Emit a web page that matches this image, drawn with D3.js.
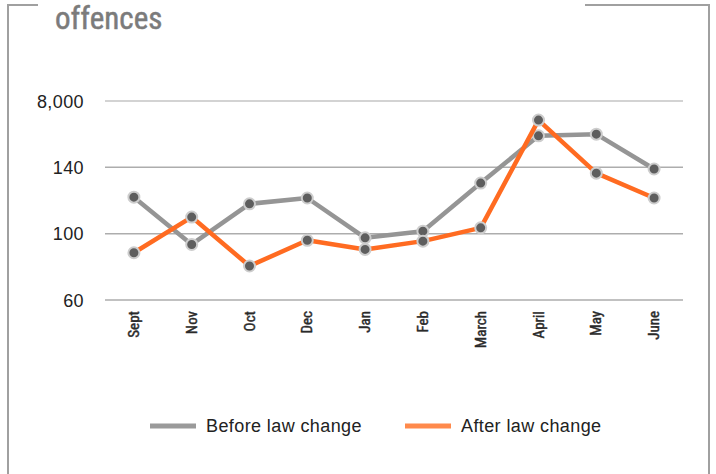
<!DOCTYPE html>
<html>
<head>
<meta charset="utf-8">
<script src="https://cdn.jsdelivr.net/npm/d3@7"></script>
<style>
  body { margin: 0; background: #fff; }
  svg { display: block; }
</style>
</head>
<body>
<div id="chart"></div>
<script>
// chart data
const months = ['Sept', 'Nov', 'Oct', 'Dec', 'Jan', 'Feb', 'March', 'April', 'May', 'June'];
const beforeValues = [122, 93.5, 118, 121.5, 97.5, 101.5, 130.5, 159, 160, 139];
const afterValues = [88.5, 110, 80.5, 96, 90.5, 95.5, 103.5, 168.5, 136.5, 121.5];
const yTicks = [60, 100, 140, 180];
const yTickLabels = ['60', '100', '140', '8,000'];
const seriesNames = ['Before law change', 'After law change'];

const width = 716, height = 474;
const plot = { left: 105, right: 683, top: 101, bottom: 300 };
const grey = '#959595', orange = '#ff6b21';
const bodyFont = '"Liberation Sans", Arial, sans-serif';
const narrowFont = '"Liberation Sans Narrow", "Roboto Condensed", Roboto, sans-serif';

const svg = d3.select('#chart').append('svg')
    .attr('width', width)
    .attr('height', height);

// frame round the whole panel, gap at the top for the title
const frame = svg.append('g')
    .attr('stroke', '#a0a0a0')
    .attr('stroke-width', 2)
    .attr('fill', 'none');
frame.append('path').attr('d', 'M38,5 H8 V480');
frame.append('path').attr('d', 'M585,5 H709 V480');

// title (first line is cut off above the picture)
svg.append('text')
    .attr('x', 55)
    .attr('y', 29)
    .attr('font-family', narrowFont)
    .attr('font-size', 31)
    .attr('fill', '#7b7b7b')
    .attr('stroke', '#7b7b7b')
    .attr('stroke-width', 0.5)
    .text('offences');

const x = d3.scalePoint()
    .domain(months)
    .range([plot.left, plot.right])
    .padding(0.5);

const y = d3.scaleLinear()
    .domain([60, 180])
    .range([plot.bottom, plot.top]);

// gridlines
svg.append('g')
    .selectAll('line')
    .data(yTicks)
    .join('line')
    .attr('x1', plot.left)
    .attr('x2', plot.right)
    .attr('y1', d => y(d))
    .attr('y2', d => y(d))
    .attr('stroke', (d, i) => i === yTicks.length - 1 ? '#c4c4c4' : '#adadad')
    .attr('stroke-width', 1.5);

// y axis labels
svg.append('g')
    .selectAll('text')
    .data(yTicks)
    .join('text')
    .attr('x', 84)
    .attr('y', d => y(d) + 6.5)
    .attr('text-anchor', 'end')
    .attr('font-family', bodyFont)
    .attr('font-size', 18)
    .attr('letter-spacing', 0.4)
    .attr('fill', '#222')
    .text((d, i) => yTickLabels[i]);

// x axis labels, rotated
svg.append('g')
    .selectAll('text')
    .data(months)
    .join('text')
    .attr('transform', d => 'translate(' + (x(d) + 5) + ',311) rotate(-90)')
    .attr('text-anchor', 'end')
    .attr('font-family', narrowFont)
    .attr('font-size', 15)
    .attr('fill', '#2a2a2a')
    .attr('stroke', '#2a2a2a')
    .attr('stroke-width', 0.45)
    .text(d => d);

const line = d3.line()
    .x((d, i) => x(months[i]))
    .y(d => y(d));

function drawSeries(values, color) {
    const g = svg.append('g');
    g.append('path')
        .datum(values)
        .attr('d', line)
        .attr('fill', 'none')
        .attr('stroke', color)
        .attr('stroke-width', 4.5)
        .attr('stroke-linejoin', 'round');
    g.selectAll('circle')
        .data(values)
        .join('circle')
        .attr('cx', (d, i) => x(months[i]))
        .attr('cy', d => y(d))
        .attr('r', 5.5)
        .attr('fill', '#5e5e5e')
        .attr('stroke', '#cdcdcd')
        .attr('stroke-width', 2);
}

drawSeries(beforeValues, grey);
drawSeries(afterValues, orange);

// legend
const legend = svg.append('g')
    .attr('font-family', bodyFont)
    .attr('font-size', 18)
    .attr('letter-spacing', 0.4)
    .attr('fill', '#222');
const legendItems = [
    { name: seriesNames[0], color: '#9a9a9a', x: 150 },
    { name: seriesNames[1], color: '#ff8a4c', x: 405 }
];
legendItems.forEach(item => {
    legend.append('line')
        .attr('x1', item.x)
        .attr('x2', item.x + 46)
        .attr('y1', 426)
        .attr('y2', 426)
        .attr('stroke', item.color)
        .attr('stroke-width', 5);
    legend.append('text')
        .attr('x', item.x + 56)
        .attr('y', 432)
        .text(item.name);
});
</script>
</body>
</html>
